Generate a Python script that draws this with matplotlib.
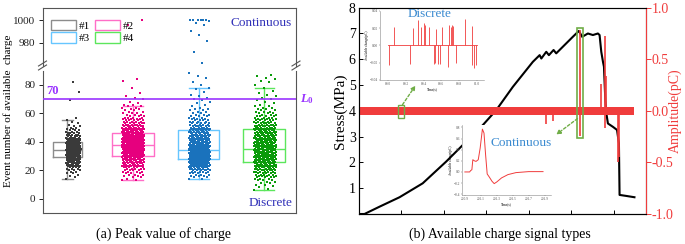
import numpy as np
import matplotlib.pyplot as plt
from matplotlib.patches import Patch, Rectangle
from matplotlib.lines import Line2D

W, H = 685, 244

plt.rcParams.update({
    'font.family': 'Liberation Serif',
    'font.size': 8,
    'mathtext.fontset': 'custom',
    'mathtext.it': 'Liberation Serif:bold:italic',
    'mathtext.rm': 'Liberation Serif:bold',
    'axes.linewidth': 0.8,
})

GRAY_AX = '#555555'
VIOLET = '#9933FF'
NAVY = '#3030B8'
BLUE_TXT = '#3A8AD0'
RED = '#F03C3C'
GREEN_BOX = '#70AD47'

# ---------------------------- (a) peak value of charge ------------------------
GROUPS = ['#1', '#2', '#3', '#4']
BOX_EDGE = ['#8C8C8C', '#FF6EC7', '#66C6FF', '#5CE65C']
PT_COLOR = ['#3A3A3A', '#E6007E', '#1A72BC', '#0A9A0A']

WHIS_LO = [14, 13, 14, 6]
Q1 = [29, 30, 28, 26]
MED = [34, 38, 34, 35]
Q3 = [40, 46, 48, 49]
WHIS_HI = [55, 65, 78, 78]

# event numbers are integers: frequency of each value, starting at VAL_START
VAL_START = [14, 13, 14, 6]
COUNTS_1 = [1, 1, 1, 1, 2, 2, 3, 3, 4, 5, 6, 7, 8, 9, 10, 11, 11, 12, 12, 12,
            12, 12, 11, 11, 10, 10, 9, 8, 7, 6, 5, 5, 4, 3, 3, 2, 2, 2, 1, 1,
            1, 1]
COUNTS_2 = [2, 1, 2, 2, 3, 3, 4, 4, 5, 6, 6, 7, 8, 9, 10, 10, 11, 12, 12, 13,
            13, 14, 14, 14, 15, 15, 15, 14, 14, 14, 13, 13, 12, 11, 10, 10, 9, 8,
            7, 7, 6, 5, 5, 4, 4, 3, 3, 3, 2, 2, 2, 2, 2]
COUNTS_3 = [2, 2, 3, 3, 4, 5, 6, 7, 9, 10, 12, 14, 15, 16, 17, 17, 17, 17, 16, 16,
            15, 14, 13, 12, 12, 11, 11, 11, 10, 10, 10, 9, 9, 8, 8, 7, 6, 6, 5, 5,
            4, 4, 3, 3, 3, 3, 2, 2, 2, 2, 1, 1, 1, 1, 1, 1, 1, 1, 1, 1,
            0, 1, 0, 1, 1]
COUNTS_4 = [1, 1, 1, 1, 2, 2, 2, 3, 3, 4, 4, 5, 5, 6, 7, 7, 8, 8, 9, 9,
            10, 10, 10, 11, 11, 11, 11, 11, 11, 11, 11, 11, 10, 10, 10, 10, 10, 9, 9, 9,
            9, 8, 8, 8, 7, 7, 6, 6, 5, 5, 4, 4, 4, 3, 3, 3, 2, 2, 2, 2,
            1, 1, 1, 1, 1, 1, 1, 1, 1, 0, 1, 0, 1]
OUTLIERS_1 = [57, 69, 75, 82]
OUTLIERS_2 = [66, 66, 67, 68, 70, 71, 72, 74, 78, 83, 84, 996, 1000]
OUTLIERS_3 = [80, 82, 85, 86, 88, 962, 972, 981, 987, 990, 996, 998, 999,
              1000, 1000, 1000, 1000, 1000, 1000]
OUTLIERS_4 = [80, 82, 83, 84, 85, 86, 87]

L0 = 70

# ---------------------------- (b) signal types --------------------------------
STRESS_T = [0, 14, 49, 96.5, 151, 206, 292.5, 324, 363, 410, 426, 430, 441.6,
            447.8, 458.8, 465, 504, 518.4, 526, 539.5, 551.3, 563, 567, 571,
            575, 577.3, 580.5, 583, 586.6, 598.4, 608, 612.5, 614, 630, 649]
STRESS = [0, 0, 0.28, 0.65, 1.19, 2.03, 3.45, 4.03, 4.93, 5.9, 6.16, 6.03, 6.29,
          6.16, 6.36, 6.23, 6.87, 7.10, 6.87, 7.0, 6.94, 7.0, 6.94, 6.29,
          5.9, 5.71, 4.42, 3.9, 3.51, 3.38, 3.26, 2.74, 0.74, 0.70, 0.65]

NOISE_T = [0, 649]
NOISE_LO = [-0.04, -0.04]
NOISE_HI = [0.04, 0.04]
SPIKE_T = [441.6, 456.5, 521.9, 521.9, 571, 578.8, 578.8, 582.8, 610, 611.8]
SPIKE_AMP = [-0.13, -0.10, 0.78, -0.24, 0.26, 0.73, -0.17, 0.34, -0.5, -0.45]

DISC_T = [80.01, 80.064, 80.245, 80.28, 80.336, 80.374, 80.41, 80.42, 80.46,
          80.517, 80.528, 80.543, 80.56, 80.58, 80.61, 80.675, 80.687, 80.706,
          80.717, 80.732, 80.762, 80.868, 80.94, 80.945, 80.97, 80.99]
DISC_AMP = [-0.0225, 0.022, -0.0217, 0.020, 0.030, 0.021, 0.026, 0.024, 0.022,
            -0.0217, -0.020, 0.019, -0.021, -0.021, 0.022, -0.025, 0.024, 0.021,
            0.024, 0.023, -0.020, 0.031, 0.023, -0.023, -0.026, -0.023]

CONT_T = [200.9, 200.96, 200.972, 200.988, 201.0, 201.02, 201.04, 201.068,
          201.092, 201.12, 201.14, 201.16, 201.18, 201.208, 201.24, 201.268,
          201.3, 201.36, 201.44, 201.54, 201.7, 201.88]
CONT_AMP = [0, 0, 0.024, 0.04, 0.22, 0.20, 0.19, 0.22, 0.43, 0.77, 0.70, 0.31,
            -0.036, -0.095, -0.167, -0.21, -0.18, -0.107, -0.048, -0.012,
            0.006, 0.006]


def px_box(l, t, r, b):
    return [l / W, 1 - b / H, (r - l) / W, (b - t) / H]


fig = plt.figure(figsize=(W / 100, H / 100), dpi=100)

# ---------------------------- panel (a) ---------------------------------------
ax_up = fig.add_axes(px_box(42.5, 8, 296, 66))
ax_lo = fig.add_axes(px_box(42.5, 71, 296, 213))

counts = [COUNTS_1, COUNTS_2, COUNTS_3, COUNTS_4]
outl = [OUTLIERS_1, OUTLIERS_2, OUTLIERS_3, OUTLIERS_4]
positions = np.arange(1, 5)
widths = [0.43, 0.63, 0.63, 0.64]
capw = [0.16, 0.3, 0.3, 0.3]
spread = [0.11, 0.17, 0.16, 0.17]
cloud_shift = [0.09, 0, 0.01, 0.01]

for i in range(4):
    stats = [dict(med=MED[i], q1=Q1[i], q3=Q3[i], whislo=WHIS_LO[i],
                  whishi=WHIS_HI[i], fliers=[])]
    vals = np.repeat(np.arange(VAL_START[i], VAL_START[i] + len(counts[i])), counts[i])
    vals = np.concatenate([vals, outl[i]])
    frac = (np.arange(len(vals)) * 0.6180339887) % 1.0
    xs = positions[i] + cloud_shift[i] + (frac - 0.5) * 2 * spread[i]
    for ax in (ax_up, ax_lo):
        lp = dict(color=BOX_EDGE[i], lw=1.0)
        ax.bxp(stats, positions=[positions[i]], widths=widths[i],
               capwidths=capw[i], showfliers=False, boxprops=lp,
               whiskerprops=lp, capprops=lp, medianprops=lp, manage_ticks=False)
        ax.scatter(xs, vals, s=0.9, marker='s', color=PT_COLOR[i],
                   linewidths=0, zorder=3)

for ax in (ax_up, ax_lo):
    ax.set_xlim(0.62, 4.48)
    ax.set_xticks([])
    for sp in ax.spines.values():
        sp.set_color(GRAY_AX)
    ax.tick_params(axis='y', direction='out', length=3, width=0.7,
                   colors='#222222', labelsize=8, pad=2)

ax_up.set_ylim(959, 1011)
ax_up.set_yticks([980, 1000])
ax_up.spines['bottom'].set_visible(False)
ax_lo.set_ylim(-10, 89.7)
ax_lo.set_yticks([0, 20, 40, 60, 80])
ax_lo.spines['top'].set_visible(False)

ax_lo.axhline(L0, color=VIOLET, lw=1.2, zorder=4)
ax_lo.text(0.68, L0 + 1.2, '70', color=VIOLET, fontsize=9, fontweight='bold',
           ha='left', va='bottom')
ax_lo.text(1.015, (L0 + 10) / 99.7, r'$L_0$', transform=ax_lo.transAxes,
           color=VIOLET, fontsize=9, ha='left', va='center')
ax_lo.text(0.985, 0.03, 'Discrete', transform=ax_lo.transAxes, color=NAVY,
           fontsize=9.5, ha='right', va='bottom')
ax_up.text(0.985, 0.74, 'Continuous', transform=ax_up.transAxes, color=NAVY,
           fontsize=9.5, ha='right', va='center')

handles = [Patch(facecolor='none', edgecolor=BOX_EDGE[k], lw=1.0) for k in (0, 2, 1, 3)]
labels = [GROUPS[k] for k in (0, 2, 1, 3)]
ax_up.legend(handles, labels, ncol=2, loc='upper left',
             bbox_to_anchor=(0.032, 0.8), frameon=False, fontsize=8,
             handlelength=2.25, handleheight=1.05, labelspacing=0.15,
             columnspacing=0.5, handletextpad=0.25, borderpad=0,
             borderaxespad=0)

# break marks
for xb in (42.5, 296):
    for dy in (0, 4):
        fig.add_artist(Line2D([(xb - 4) / W, (xb + 4) / W],
                              [1 - (70 - dy) / H, 1 - (65 - dy) / H],
                              color=GRAY_AX, lw=0.8))

fig.text(8 / W, 1 - 111 / H, 'Event number of available  charge', rotation=90,
         ha='center', va='center', fontsize=8)
fig.text(163 / W, 1 - 234 / H, '(a) Peak value of charge', ha='center',
         va='center', fontsize=10)

# ---------------------------- panel (b) ---------------------------------------
axb = fig.add_axes(px_box(358.5, 7.7, 645.5, 214))
axb.plot(STRESS_T, STRESS, color='black', lw=1.5, zorder=2)
axb.set_xlim(0, 675)
axb.set_ylim(0, 8)
axb.set_xticks([100, 200, 300, 400, 500, 600])
axb.set_xticklabels([])
axb.set_yticks(range(1, 9))
axb.tick_params(axis='both', direction='in', length=3, width=0.7, labelsize=10,
                pad=2)
axb.set_ylabel('Stress(MPa)', fontsize=11, labelpad=1)
axb.spines['left'].set_color(GRAY_AX)
axb.spines['top'].set_color(GRAY_AX)

tw = axb.twinx()
tw.fill_between(NOISE_T, NOISE_LO, NOISE_HI, color=RED, lw=0)
tw.vlines(SPIKE_T, 0, SPIKE_AMP, color=RED, lw=1.2)
tw.set_ylim(-1, 1)
tw.set_yticks([-1, -0.5, 0, 0.5, 1])
tw.set_yticklabels(['-1.0', '-0.5', '0.0', '0.5', '1.0'])
tw.tick_params(axis='y', direction='out', length=3.5, width=0.7, colors=RED,
               labelsize=10, pad=1)
tw.spines['right'].set_color(RED)
fig.text(675 / W, 1 - 111 / H, 'Amplitude(pC)', color=RED, fontsize=10,
         rotation=90, ha='center', va='center')

tw.add_patch(Rectangle((92, -0.07), 15, 0.125, fill=False, ec=GREEN_BOX, lw=1.0, zorder=5))
tw.add_patch(Rectangle((514.6, -0.26), 14.1, 1.06, fill=False, ec=GREEN_BOX, lw=1.2, zorder=5))
arr = dict(arrowstyle='-|>', color=GREEN_BOX, lw=1.0, linestyle=(0, (2, 1.5)),
           mutation_scale=6, shrinkA=0, shrinkB=0)
tw.annotate('', xy=(134, 0.245), xytext=(103.5, 0.06), arrowprops=arr)
tw.annotate('', xy=(465, -0.23), xytext=(515, -0.075), arrowprops=arr)

# inset: discrete
in1 = fig.add_axes(px_box(380, 11, 484, 80))
in1.plot([80.0, 81.0], [0, 0], color=RED, lw=0.6)
in1.vlines(DISC_T, 0, DISC_AMP, color=RED, lw=0.6)
in1.set_xlim(79.91, 81.08)
in1.set_ylim(-0.04, 0.04)
in1.set_xticks([80.0, 80.2, 80.4, 80.6, 80.8, 81.0])
in1.set_yticks([-0.04, -0.02, 0.0, 0.02, 0.04])
in1.set_xlabel('Time(s)', fontsize=2.5, labelpad=0.5)
in1.set_ylabel('Available charge(pC)', fontsize=2.5, labelpad=0.5)

# inset: continuous
in2 = fig.add_axes(px_box(462.3, 124.7, 551, 195.3))
in2.plot(CONT_T, CONT_AMP, color=RED, lw=0.7)
in2.set_xlim(200.868, 201.98)
in2.set_ylim(-0.42, 0.85)
in2.set_xticks([200.9, 201.1, 201.3, 201.5, 201.7, 201.9])
in2.set_yticks([-0.4, -0.2, 0.0, 0.2, 0.4, 0.6, 0.8])
in2.set_xlabel('Time(s)', fontsize=2.5, labelpad=0.5)
in2.set_ylabel('Available charge(pC)', fontsize=2.5, labelpad=0.5)

for ia in (in1, in2):
    ia.set_facecolor('white')
    ia.spines['top'].set_visible(False)
    ia.spines['right'].set_visible(False)
    for sp in ('left', 'bottom'):
        ia.spines[sp].set_color('#888888')
        ia.spines[sp].set_linewidth(0.4)
    ia.tick_params(length=1, width=0.3, labelsize=2.5, pad=0.5, colors='#555555')

fig.text(429.5 / W, 1 - 14 / H, 'Discrete', color=BLUE_TXT, fontsize=9.5,
         ha='center', va='center')
fig.text(521 / W, 1 - 143 / H, 'Continuous', color=BLUE_TXT, fontsize=9.5,
         ha='center', va='center')
fig.text(500 / W, 1 - 234 / H, '(b) Available charge signal types', ha='center',
         va='center', fontsize=10)

fig.savefig('out.png', dpi=100)
